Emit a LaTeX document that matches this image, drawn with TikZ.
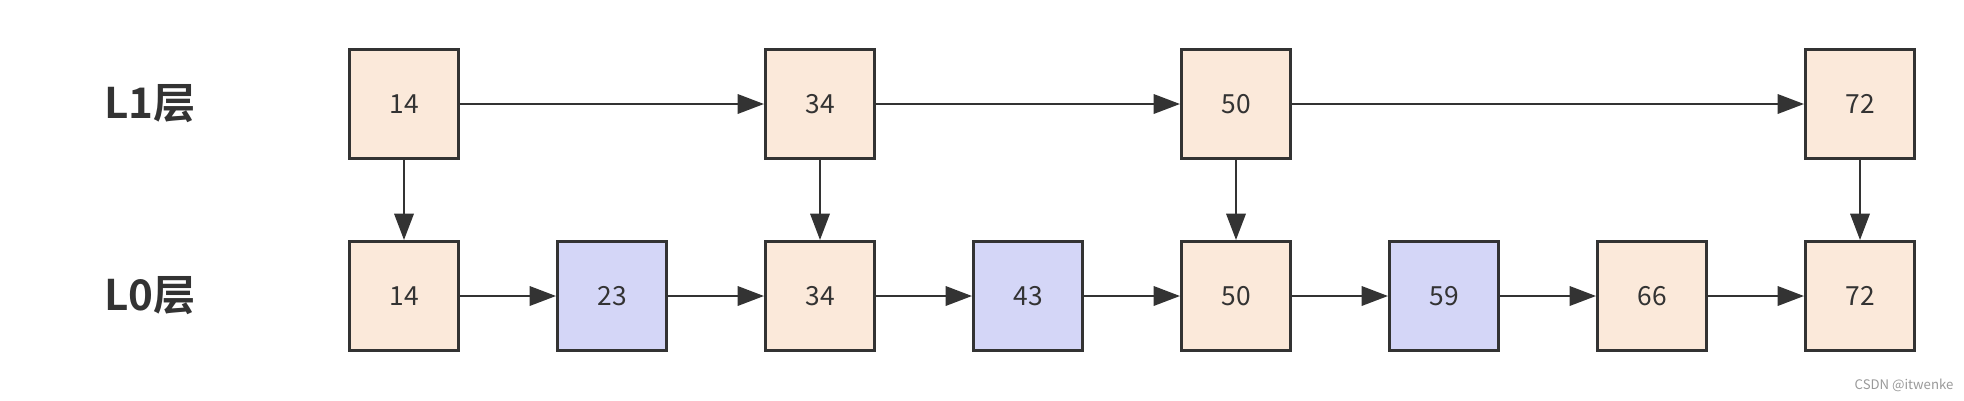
\documentclass[tikz,border=0pt]{standalone}
\usepackage{fontspec}
\setmainfont{Noto Sans CJK SC}[BoldFont={Noto Sans CJK SC Bold}]
\usetikzlibrary{arrows.meta}
\definecolor{peach}{HTML}{FBE9DA}
\definecolor{lilac}{HTML}{D4D6F7}
\definecolor{ink}{HTML}{333333}
\tikzset{
  cell/.style={draw=ink, line width=1.7pt, rectangle, minimum size=2.18cm, inner sep=0pt, text=ink, font=\fontsize{15}{17}\selectfont},
  keep/.style={cell, fill=peach},
  fresh/.style={cell, fill=lilac},
  link/.style={draw=ink, line width=1.4pt, -{Triangle[length=15pt,width=11pt]}},
  layer/.style={text=ink, font=\fontsize{24}{28}\selectfont\bfseries}
}

\begin{document}
\begin{tikzpicture}[x=0.02cm, y=-0.02cm]
    \useasboundingbox (0,0) rectangle (1964,400);

    % Layer labels
    \node[layer] (lab1) at (150,104) {L1层};
    \node[layer] (lab0) at (150,296) {L0层};

    % Upper layer (index)
    \node[keep] (a14) at (404,104) {14};
    \node[keep] (a34) at (820,104) {34};
    \node[keep] (a50) at (1236,104) {50};
    \node[keep] (a72) at (1860,104) {72};

    % Lower layer (all elements)
    \node[keep] (b14) at (404,296) {14};
    \node[fresh] (b23) at (612,296) {23};
    \node[keep] (b34) at (820,296) {34};
    \node[fresh] (b43) at (1028,296) {43};
    \node[keep] (b50) at (1236,296) {50};
    \node[fresh] (b59) at (1444,296) {59};
    \node[keep] (b66) at (1652,296) {66};
    \node[keep] (b72) at (1860,296) {72};

    % Links in L1
    \draw[link] (a14) -- (a34);
    \draw[link] (a34) -- (a50);
    \draw[link] (a50) -- (a72);

    % Links down to L0
    \draw[link] (a14) -- (b14);
    \draw[link] (a34) -- (b34);
    \draw[link] (a50) -- (b50);
    \draw[link] (a72) -- (b72);

    % Links in L0
    \draw[link] (b14) -- (b23);
    \draw[link] (b23) -- (b34);
    \draw[link] (b34) -- (b43);
    \draw[link] (b43) -- (b50);
    \draw[link] (b50) -- (b59);
    \draw[link] (b59) -- (b66);
    \draw[link] (b66) -- (b72);

    % Watermark
    \node[text=gray!80, font=\fontsize{7.5}{9}\selectfont] (mark) at (1904,385) {CSDN @itwenke};
\end{tikzpicture}
\end{document}
